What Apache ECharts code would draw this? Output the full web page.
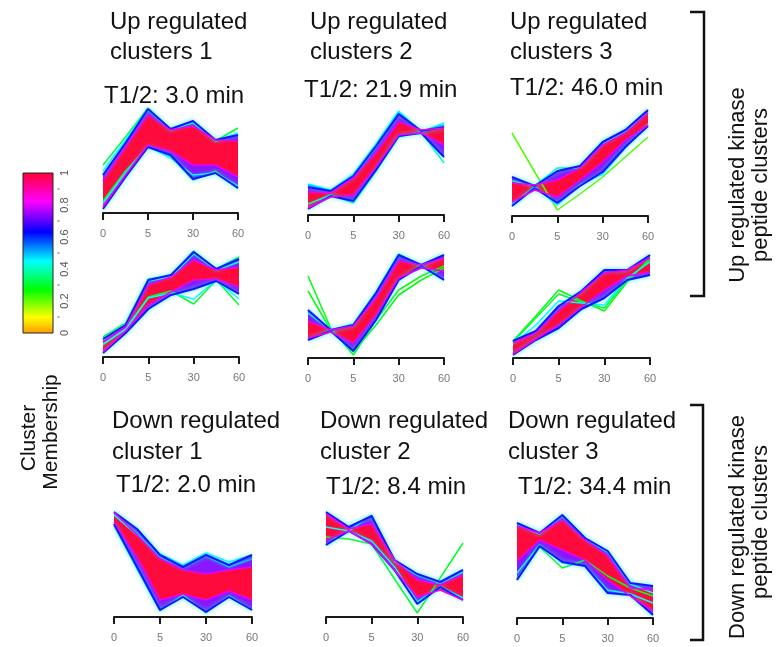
<!DOCTYPE html>
<html>
<head>
<meta charset="utf-8">
<script src="https://cdn.jsdelivr.net/npm/echarts@6/dist/echarts.min.js"></script>
<style>
  html, body { margin: 0; padding: 0; background: #fff; }
  #container { width: 778px; height: 647px; }
</style>
</head>
<body>
<div id="container"></div>
<script>
// sampling points along x (ticks only on 0, 5, 30, 60)
const sampleIndex = [0, 1, 2, 3, 4, 5, 6];
const tickLabels = ['0', '5', '30', '60'];
const barLabels = ['0', '0.2', '0.4', '0.6', '0.8', '1'];

// values (height above the x axis)
// Up regulated clusters 1 (top row)
const up1EdgeHi = [38, 70, 104, 84, 92, 73, 78];
const up1EdgeLo = [4, 36, 66, 58, 34, 40, 25];
const up1CoreHi = [32, 66, 98, 83, 87, 73, 72];
const up1CoreLo = [6, 38, 68, 62, 48, 48, 36];
const up1Outliers = [[48, 76, 105, 84, 90, 72, 85], [12, 42, 66, 57, 33, 42, 24], [42, 73, 103, 83, 91, 72, 80], [10, 40, 67, 55, 38, 40, 27]];
const up1Membership = [0.3, 0.3, 0.45, 0.45];

// Up regulated clusters 2 (top row)
const up2EdgeHi = [28, 24, 39, 69, 101, 84, 88];
const up2EdgeLo = [6, 19, 14, 45, 79, 82, 58];
const up2CoreHi = [23, 22, 37, 62, 93, 85, 87];
const up2CoreLo = [7, 18, 20, 48, 80, 82, 70];
const up2Outliers = [[31, 25, 41, 71, 104, 83, 92], [11, 20, 12, 44, 78, 83, 52], [30, 24, 38, 68, 102, 84, 90]];
const up2Membership = [0.45, 0.4, 0.5];

// Up regulated clusters 3 (top row)
const up3EdgeHi = [39, 30, 45, 50, 74, 86, 106];
const up3EdgeLo = [10, 28, 13, 30, 44, 69, 90];
const up3CoreHi = [33, 31, 36, 48, 71, 83, 103];
const up3CoreLo = [14, 26, 19, 36, 54, 76, 91];
const up3Outliers = [[83, 44, 6, 22, 39, 59, 79], [35, 30, 48, 48, 72, 84, 103], [12, 29, 11, 31, 42, 68, 92]];
const up3Membership = [0.22, 0.38, 0.45];

// second row, cluster 1
const up1bEdgeHi = [18, 32, 77, 82, 105, 88, 98];
const up1bEdgeLo = [4, 24, 48, 62, 68, 76, 63];
const up1bCoreHi = [15, 30, 72, 80, 97, 87, 90];
const up1bCoreLo = [5, 26, 52, 65, 77, 78, 70];
const up1bOutliers = [[20, 34, 78, 81, 106, 88, 100], [12, 28, 60, 66, 53, 77, 52], [13, 28, 59, 64, 58, 77, 58], [17, 33, 76, 80, 103, 87, 95]];
const up1bMembership = [0.3, 0.3, 0.45, 0.45];

// second row, cluster 2
const up2bEdgeHi = [48, 28, 33, 65, 103, 93, 103];
const up2bEdgeLo = [18, 27, 7, 38, 78, 92, 78];
const up2bCoreHi = [37, 28, 32, 60, 97, 93, 100];
const up2bCoreLo = [20, 26, 15, 43, 80, 90, 87];
const up2bOutliers = [[82, 30, 3, 38, 68, 82, 92], [67, 28, 6, 33, 63, 78, 90], [45, 28, 34, 66, 104, 92, 78]];
const up2bMembership = [0.28, 0.28, 0.45];

// second row, cluster 3
const up3bEdgeHi = [17, 27, 52, 67, 88, 88, 103];
const up3bEdgeLo = [3, 18, 30, 49, 60, 78, 83];
const up3bCoreHi = [15, 25, 47, 66, 85, 88, 100];
const up3bCoreLo = [4, 19, 33, 51, 68, 82, 86];
const up3bOutliers = [[17, 42, 68, 57, 47, 76, 100], [16, 40, 64, 56, 50, 78, 98], [14, 33, 57, 55, 53, 80, 96]];
const up3bMembership = [0.28, 0.3, 0.45];

// Down regulated cluster 1
const dn1EdgeHi = [105, 88, 62, 50, 62, 52, 62];
const dn1EdgeLo = [93, 50, 7, 20, 5, 20, 7];
const dn1CoreHi = [105, 82, 58, 47, 43, 47, 50];
const dn1CoreLo = [95, 60, 17, 23, 17, 26, 17];
const dn1Outliers = [[102, 82, 63, 52, 64, 55, 62], [91, 48, 6, 22, 4, 21, 7], [104, 84, 60, 50, 61, 50, 58]];
const dn1Membership = [0.45, 0.4, 0.5];

// Down regulated cluster 2
const dn2EdgeHi = [105, 90, 101, 57, 43, 35, 47];
const dn2EdgeLo = [72, 86, 73, 47, 13, 30, 17];
const dn2CoreHi = [103, 88, 93, 57, 37, 32, 42];
const dn2CoreLo = [77, 86, 73, 47, 20, 27, 17];
const dn2Outliers = [[80, 78, 73, 38, 4, 39, 74], [72, 86, 102, 56, 42, 34, 45], [90, 86, 76, 50, 15, 30, 19]];
const dn2Membership = [0.3, 0.45, 0.45];

// Down regulated cluster 3
const dn3EdgeHi = [95, 85, 103, 80, 67, 35, 32];
const dn3EdgeLo = [38, 72, 56, 52, 25, 23, 3];
const dn3CoreHi = [92, 85, 98, 78, 62, 30, 28];
const dn3CoreLo = [57, 78, 68, 58, 38, 22, 7];
const dn3Outliers = [[39, 71, 50, 58, 42, 30, 22], [45, 73, 55, 52, 28, 24, 15], [94, 84, 102, 80, 66, 34, 25]];
const dn3Membership = [0.3, 0.45, 0.45];

const titleLines = [
  ['Up regulated', 'clusters 1', 'T1/2: 3.0 min'],
  ['Up regulated', 'clusters 2', 'T1/2: 21.9 min'],
  ['Up regulated', 'clusters 3', 'T1/2: 46.0 min'],
  ['Down regulated', 'cluster 1', 'T1/2: 2.0 min'],
  ['Down regulated', 'cluster 2', 'T1/2: 8.4 min'],
  ['Down regulated', 'cluster 3', 'T1/2: 34.4 min']
];

const panels = [
  [up1EdgeHi, up1EdgeLo, up1CoreHi, up1CoreLo, up1Outliers, up1Membership],
  [up2EdgeHi, up2EdgeLo, up2CoreHi, up2CoreLo, up2Outliers, up2Membership],
  [up3EdgeHi, up3EdgeLo, up3CoreHi, up3CoreLo, up3Outliers, up3Membership],
  [up1bEdgeHi, up1bEdgeLo, up1bCoreHi, up1bCoreLo, up1bOutliers, up1bMembership],
  [up2bEdgeHi, up2bEdgeLo, up2bCoreHi, up2bCoreLo, up2bOutliers, up2bMembership],
  [up3bEdgeHi, up3bEdgeLo, up3bCoreHi, up3bCoreLo, up3bOutliers, up3bMembership],
  [dn1EdgeHi, dn1EdgeLo, dn1CoreHi, dn1CoreLo, dn1Outliers, dn1Membership],
  [dn2EdgeHi, dn2EdgeLo, dn2CoreHi, dn2CoreLo, dn2Outliers, dn2Membership],
  [dn3EdgeHi, dn3EdgeLo, dn3CoreHi, dn3CoreLo, dn3Outliers, dn3Membership]
];

// layout: [left, width, axis line y]
const boxes = [
  [103, 135, 213], [308, 136, 215], [512, 136, 216],
  [103, 136, 357], [308, 136, 358], [513, 137, 358],
  [114, 138, 617], [326, 137, 617], [517, 136, 618]
];
// title positions: [x1, x3, y1, y2, y3]
const titlePos = [
  [110, 104, 22, 52, 96], [310, 304, 22, 52, 90], [510, 510, 22, 52, 88],
  [112, 116, 421, 452, 485], [320, 326, 421, 452, 487], [508, 518, 421, 452, 487]
];

const memberStops = [
  [0, '#ff9a00'], [0.1, '#ffff00'], [0.27, '#00ff00'], [0.45, '#00ffff'],
  [0.63, '#0000ff'], [0.82, '#ff00ff'], [1, '#ff0033']
];

function memberColor(m) {
  for (let i = 1; i < memberStops.length; i++) {
    if (m <= memberStops[i][0]) {
      let t = (m - memberStops[i - 1][0]) / (memberStops[i][0] - memberStops[i - 1][0]);
      return echarts.color.lerp(t, [memberStops[i - 1][1], memberStops[i][1]]);
    }
  }
  return memberStops[memberStops.length - 1][1];
}

let grid = [], xAxis = [], yAxis = [], series = [];
panels.forEach(function (p, k) {
  let [edgeHi, edgeLo, coreHi, coreLo, outliers, mem] = p;
  let b = boxes[k];
  grid.push({ left: b[0], top: b[2] - 110, width: b[1], height: 110 });
  xAxis.push({
    gridIndex: k, type: 'category', data: sampleIndex, boundaryGap: false,
    axisLine: { lineStyle: { color: '#1a1a1a', width: 2 } },
    axisTick: { show: true, interval: 1, length: 7, lineStyle: { color: '#1a1a1a', width: 2 } },
    axisLabel: {
      interval: 1, color: '#777', fontSize: 11, margin: 15, fontFamily: 'Liberation Sans',
      formatter: (v, i) => tickLabels[i / 2]
    },
    splitLine: { show: false }
  });
  yAxis.push({ gridIndex: k, type: 'value', min: 0, max: 110, show: false });

  let base = { type: 'line', xAxisIndex: k, yAxisIndex: k, symbol: 'none', silent: true };
  outliers.forEach(function (line, j) {
    series.push(Object.assign({}, base, {
      data: line, lineStyle: { color: memberColor(mem[j]), width: 1.5 }
    }));
  });
  let edgeLine = { color: '#1414ff', width: 2, shadowColor: '#00eaff', shadowBlur: 4 };
  series.push(Object.assign({}, base, { data: edgeLo, stack: 'edge' + k, stackStrategy: 'all', lineStyle: edgeLine }));
  series.push(Object.assign({}, base, {
    data: edgeHi.map((v, i) => v - edgeLo[i]), stack: 'edge' + k, stackStrategy: 'all',
    lineStyle: edgeLine, areaStyle: { color: '#8a16ff', opacity: 1 }
  }));
  let coreLine = { color: '#ee00f0', width: 1.5 };
  series.push(Object.assign({}, base, { data: coreLo, stack: 'core' + k, stackStrategy: 'all', lineStyle: coreLine }));
  series.push(Object.assign({}, base, {
    data: coreHi.map((v, i) => v - coreLo[i]), stack: 'core' + k, stackStrategy: 'all',
    lineStyle: coreLine, areaStyle: { color: '#ff0a3c', opacity: 1 }
  }));
});

const font = 'Liberation Sans';
let graphic = [];
titleLines.forEach(function (t, k) {
  let pos = titlePos[k];
  [[pos[0], pos[2]], [pos[0], pos[3]], [pos[1], pos[4]]].forEach(function (xy, j) {
    graphic.push({
      type: 'text', x: xy[0], y: xy[1],
      style: { text: t[j], fontSize: 24, fontFamily: font, fill: '#111', textVerticalAlign: 'middle' }
    });
  });
});

// brackets on the right
graphic.push({ type: 'polyline', shape: { points: [[690, 12], [704, 12], [704, 296], [690, 296]] }, style: { stroke: '#111', lineWidth: 2.5, fill: null } });
graphic.push({ type: 'polyline', shape: { points: [[690, 405], [703, 405], [703, 640], [690, 640]] }, style: { stroke: '#111', lineWidth: 2.5, fill: null } });
[['Up regulated kinase', 738, 185], ['peptide clusters', 761, 185],
 ['Down regulated kinase', 738, 527], ['peptide clusters', 761, 522]].forEach(function (t) {
  graphic.push({
    type: 'text', x: t[1], y: t[2], rotation: Math.PI / 2,
    style: { text: t[0], fontSize: 22, fontFamily: font, fill: '#111', textAlign: 'center', textVerticalAlign: 'middle' }
  });
});

// colour bar for cluster membership
graphic.push({
  type: 'rect', shape: { x: 23, y: 173, width: 30, height: 160 },
  style: {
    fill: new echarts.graphic.LinearGradient(0, 1, 0, 0, memberStops.map(s => ({ offset: s[0], color: s[1] }))),
    stroke: '#222', lineWidth: 1
  }
});
barLabels.forEach(function (lab, i) {
  graphic.push({
    type: 'text', x: 65, y: 333 - i * 32, rotation: Math.PI / 2,
    style: { text: lab, fontSize: 11, fontFamily: font, fill: '#555', textAlign: 'center', textVerticalAlign: 'middle' }
  });
  if (i < barLabels.length - 1) {
    graphic.push({ type: 'line', shape: { x1: 57, y1: 317 - i * 32, x2: 60, y2: 317 - i * 32 }, style: { stroke: '#888', lineWidth: 1 } });
  }
});
graphic.push({ type: 'text', x: 29, y: 438, rotation: Math.PI / 2, style: { text: 'Cluster', fontSize: 21, fontFamily: font, fill: '#111', textAlign: 'center', textVerticalAlign: 'middle' } });
graphic.push({ type: 'text', x: 51, y: 432, rotation: Math.PI / 2, style: { text: 'Membership', fontSize: 21, fontFamily: font, fill: '#111', textAlign: 'center', textVerticalAlign: 'middle' } });

let myChart = echarts.init(document.getElementById('container'));
myChart.setOption({
  animation: false,
  grid, xAxis, yAxis, series, graphic
});
</script>
</body>
</html>
